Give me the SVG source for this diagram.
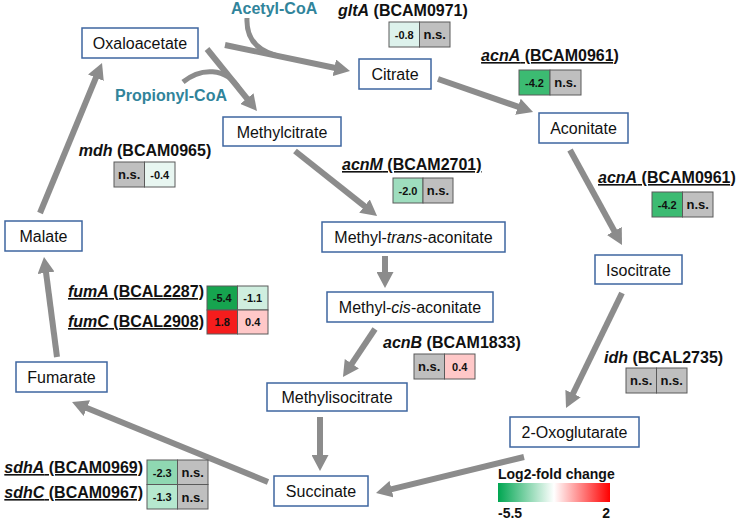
<svg xmlns="http://www.w3.org/2000/svg" width="740" height="520" viewBox="0 0 740 520">
<style>
.node rect{fill:#fff;stroke:#3E66A0;stroke-width:1.5}
.node text{font-family:"Liberation Sans",Arial,sans-serif;font-size:16px;fill:#111;text-anchor:middle}
.gene{font-family:"Liberation Sans",Arial,sans-serif;font-size:16px;font-weight:bold;fill:#111}
.u{text-decoration:underline}
.cell{stroke:#5a5a5a;stroke-width:1}
.cv{font-family:"Liberation Sans",Arial,sans-serif;font-size:11px;font-weight:bold;fill:#111;text-anchor:middle}
.ns{font-family:"Liberation Sans",Arial,sans-serif;font-size:13px;font-weight:bold;fill:#111;text-anchor:middle}
.co{font-family:"Liberation Sans",Arial,sans-serif;font-size:16px;font-weight:bold;fill:#31849B}
.arr{fill:none;stroke:#8C8C8C;stroke-width:6;marker-end:url(#ah)}
.cur{fill:none;stroke:#8C8C8C;stroke-width:5}
.leg{font-family:"Liberation Sans",Arial,sans-serif;font-size:14px;font-weight:bold;fill:#111}
</style>
<defs>
<marker id="ah" markerUnits="userSpaceOnUse" viewBox="0 0 16 17" markerWidth="16" markerHeight="17" refX="6" refY="8.5" orient="auto">
<path d="M0,0 L16,8.5 L0,17 z" fill="#8C8C8C"/>
</marker>
<linearGradient id="lg" x1="0" y1="0" x2="1" y2="0">
<stop offset="0" stop-color="#00A651"/>
<stop offset="0.5" stop-color="#FFFFFF"/>
<stop offset="1" stop-color="#FF0000"/>
</linearGradient>
</defs>
<rect width="740" height="520" fill="#fff"/>

<g id="connectors">
<path class="arr" d="M225,45 L340.2,69"/>
<path class="cur" d="M247,18 C246,38 256,50 276,55.5"/>
<path class="arr" d="M207,49 L250.7,103.2"/>
<path class="cur" d="M183,82 C200,68 226,66 240,90"/>
<path class="arr" d="M438,79 L523.6,108.7"/>
<path class="arr" d="M570,150 L617.2,236.2"/>
<path class="arr" d="M622,293 L570.4,399"/>
<path class="arr" d="M524,457 L385.7,490.6"/>
<path class="arr" d="M295,151 L369.2,209.8"/>
<path class="arr" d="M385,256 L385,278"/>
<path class="arr" d="M375,329 L348.5,368.7"/>
<path class="arr" d="M320,417 L320,461"/>
<path class="arr" d="M268,482 L81.3,405.8"/>
<path class="arr" d="M57,357 L45.3,266.9"/>
<path class="arr" d="M40,213 L98.2,72.2"/>
</g>

<text class="co" x="231" y="14">Acetyl-CoA</text>
<text class="co" x="115" y="101">Propionyl-CoA</text>

<g id="oxaloacetate" class="node"><rect x="82" y="28" width="116" height="30"/><text x="140" y="49">Oxaloacetate</text></g>
<g id="citrate" class="node"><rect x="359" y="59" width="72" height="30"/><text x="395" y="80">Citrate</text></g>
<g id="aconitate" class="node"><rect x="539" y="113" width="89" height="30"/><text x="583.5" y="134">Aconitate</text></g>
<g id="methylcitrate" class="node"><rect x="223" y="117" width="118" height="29"/><text x="282" y="137.5">Methylcitrate</text></g>
<g id="malate" class="node"><rect x="5" y="221" width="77" height="30"/><text x="43.5" y="242">Malate</text></g>
<g id="methyl-trans-aconitate" class="node"><rect x="322" y="222" width="183" height="30"/><text x="413.5" y="243">Methyl-<tspan font-style="italic">trans</tspan>-aconitate</text></g>
<g id="methyl-cis-aconitate" class="node"><rect x="327" y="292" width="166" height="30"/><text x="410" y="313">Methyl-<tspan font-style="italic">cis</tspan>-aconitate</text></g>
<g id="isocitrate" class="node"><rect x="595" y="255" width="87" height="29"/><text x="638.5" y="275.5">Isocitrate</text></g>
<g id="fumarate" class="node"><rect x="16" y="362" width="91" height="30"/><text x="61.5" y="383">Fumarate</text></g>
<g id="methylisocitrate" class="node"><rect x="267" y="383" width="140" height="28"/><text x="337" y="403">Methylisocitrate</text></g>
<g id="succinate" class="node"><rect x="274" y="476" width="94" height="30"/><text x="321" y="497">Succinate</text></g>
<g id="oxoglutarate" class="node"><rect x="510" y="417" width="129" height="30"/><text x="574.5" y="438">2-Oxoglutarate</text></g>

<g id="gltA">
<text class="gene" x="338" y="16"><tspan font-style="italic">gltA</tspan> (BCAM0971)</text>
<rect class="cell" x="389" y="22" width="30.5" height="25" fill="#DDF2EC"/>
<rect class="cell" x="419.5" y="22" width="30.5" height="25" fill="#BFBFBF"/>
<text class="cv" x="404.25" y="38.5">-0.8</text><text class="ns" x="434.75" y="39">n.s.</text>
</g>
<g id="acnA1">
<text class="gene u" x="550" y="61" text-anchor="middle"><tspan font-style="italic">acnA</tspan> (BCAM0961)</text>
<rect class="cell" x="519" y="70" width="31" height="25" fill="#3CBB72"/>
<rect class="cell" x="550" y="70" width="31" height="25" fill="#BFBFBF"/>
<text class="cv" x="534.5" y="86.5">-4.2</text><text class="ns" x="565.5" y="87">n.s.</text>
</g>
<g id="mdh">
<text class="gene" x="145" y="156" text-anchor="middle"><tspan font-style="italic">mdh</tspan> (BCAM0965)</text>
<rect class="cell" x="114" y="162" width="30.5" height="25" fill="#BFBFBF"/>
<rect class="cell" x="144.5" y="162" width="30.5" height="25" fill="#E8F6F1"/>
<text class="ns" x="129.25" y="179">n.s.</text><text class="cv" x="159.75" y="178.5">-0.4</text>
</g>
<g id="acnM">
<text class="gene u" x="342" y="170"><tspan font-style="italic">acnM</tspan> (BCAM2701)</text>
<rect class="cell" x="393" y="178" width="30" height="25" fill="#9EDDBE"/>
<rect class="cell" x="423" y="178" width="30" height="25" fill="#BFBFBF"/>
<text class="cv" x="408" y="194.5">-2.0</text><text class="ns" x="438" y="195">n.s.</text>
</g>
<g id="acnA2">
<text class="gene u" x="598" y="183"><tspan font-style="italic">acnA</tspan> (BCAM0961)</text>
<rect class="cell" x="652" y="192" width="30.5" height="25" fill="#3CBB72"/>
<rect class="cell" x="682.5" y="192" width="30.5" height="25" fill="#BFBFBF"/>
<text class="cv" x="667.25" y="208.5">-4.2</text><text class="ns" x="697.75" y="209">n.s.</text>
</g>
<g id="fum">
<text class="gene u" x="204" y="297" text-anchor="end"><tspan font-style="italic">fumA</tspan> (BCAL2287)</text>
<text class="gene u" x="204" y="327" text-anchor="end"><tspan font-style="italic">fumC</tspan> (BCAL2908)</text>
<rect class="cell" x="207" y="286" width="30.5" height="24" fill="#16A44F"/>
<rect class="cell" x="237.5" y="286" width="30.5" height="24" fill="#CFEEDF"/>
<rect class="cell" x="207" y="310" width="30.5" height="24" fill="#F51D1D"/>
<rect class="cell" x="237.5" y="310" width="30.5" height="24" fill="#FFC8C8"/>
<text class="cv" x="222.25" y="302">-5.4</text><text class="cv" x="252.75" y="302">-1.1</text>
<text class="cv" x="222.25" y="326">1.8</text><text class="cv" x="252.75" y="326">0.4</text>
</g>
<g id="acnB">
<text class="gene" x="383" y="348"><tspan font-style="italic">acnB</tspan> (BCAM1833)</text>
<rect class="cell" x="414" y="354" width="30.5" height="25" fill="#BFBFBF"/>
<rect class="cell" x="444.5" y="354" width="30.5" height="25" fill="#FFC8C8"/>
<text class="ns" x="429.25" y="371">n.s.</text><text class="cv" x="459.75" y="370.5">0.4</text>
</g>
<g id="idh">
<text class="gene" x="604" y="363"><tspan font-style="italic">idh</tspan> (BCAL2735)</text>
<rect class="cell" x="626" y="368" width="30.5" height="25" fill="#BFBFBF"/>
<rect class="cell" x="656.5" y="368" width="30.5" height="25" fill="#BFBFBF"/>
<text class="ns" x="641.25" y="385">n.s.</text><text class="ns" x="671.75" y="385">n.s.</text>
</g>
<g id="sdh">
<text class="gene u" x="143" y="473" text-anchor="end"><tspan font-style="italic">sdhA</tspan> (BCAM0969)</text>
<text class="gene u" x="143" y="498" text-anchor="end"><tspan font-style="italic">sdhC</tspan> (BCAM0967)</text>
<rect class="cell" x="147" y="460" width="30.5" height="24.5" fill="#8FD8B2"/>
<rect class="cell" x="177.5" y="460" width="30.5" height="24.5" fill="#BFBFBF"/>
<rect class="cell" x="147" y="484.5" width="30.5" height="24.5" fill="#B6E8CF"/>
<rect class="cell" x="177.5" y="484.5" width="30.5" height="24.5" fill="#BFBFBF"/>
<text class="cv" x="162.25" y="476.5">-2.3</text><text class="ns" x="192.75" y="477">n.s.</text>
<text class="cv" x="162.25" y="501">-1.3</text><text class="ns" x="192.75" y="501.5">n.s.</text>
</g>

<g id="legend">
<text class="leg" x="498" y="479">Log2-fold change</text>
<rect x="498" y="483" width="112" height="19" fill="url(#lg)"/>
<text class="leg" x="498" y="518">-5.5</text>
<text class="leg" x="610" y="518" text-anchor="end">2</text>
</g>
</svg>
